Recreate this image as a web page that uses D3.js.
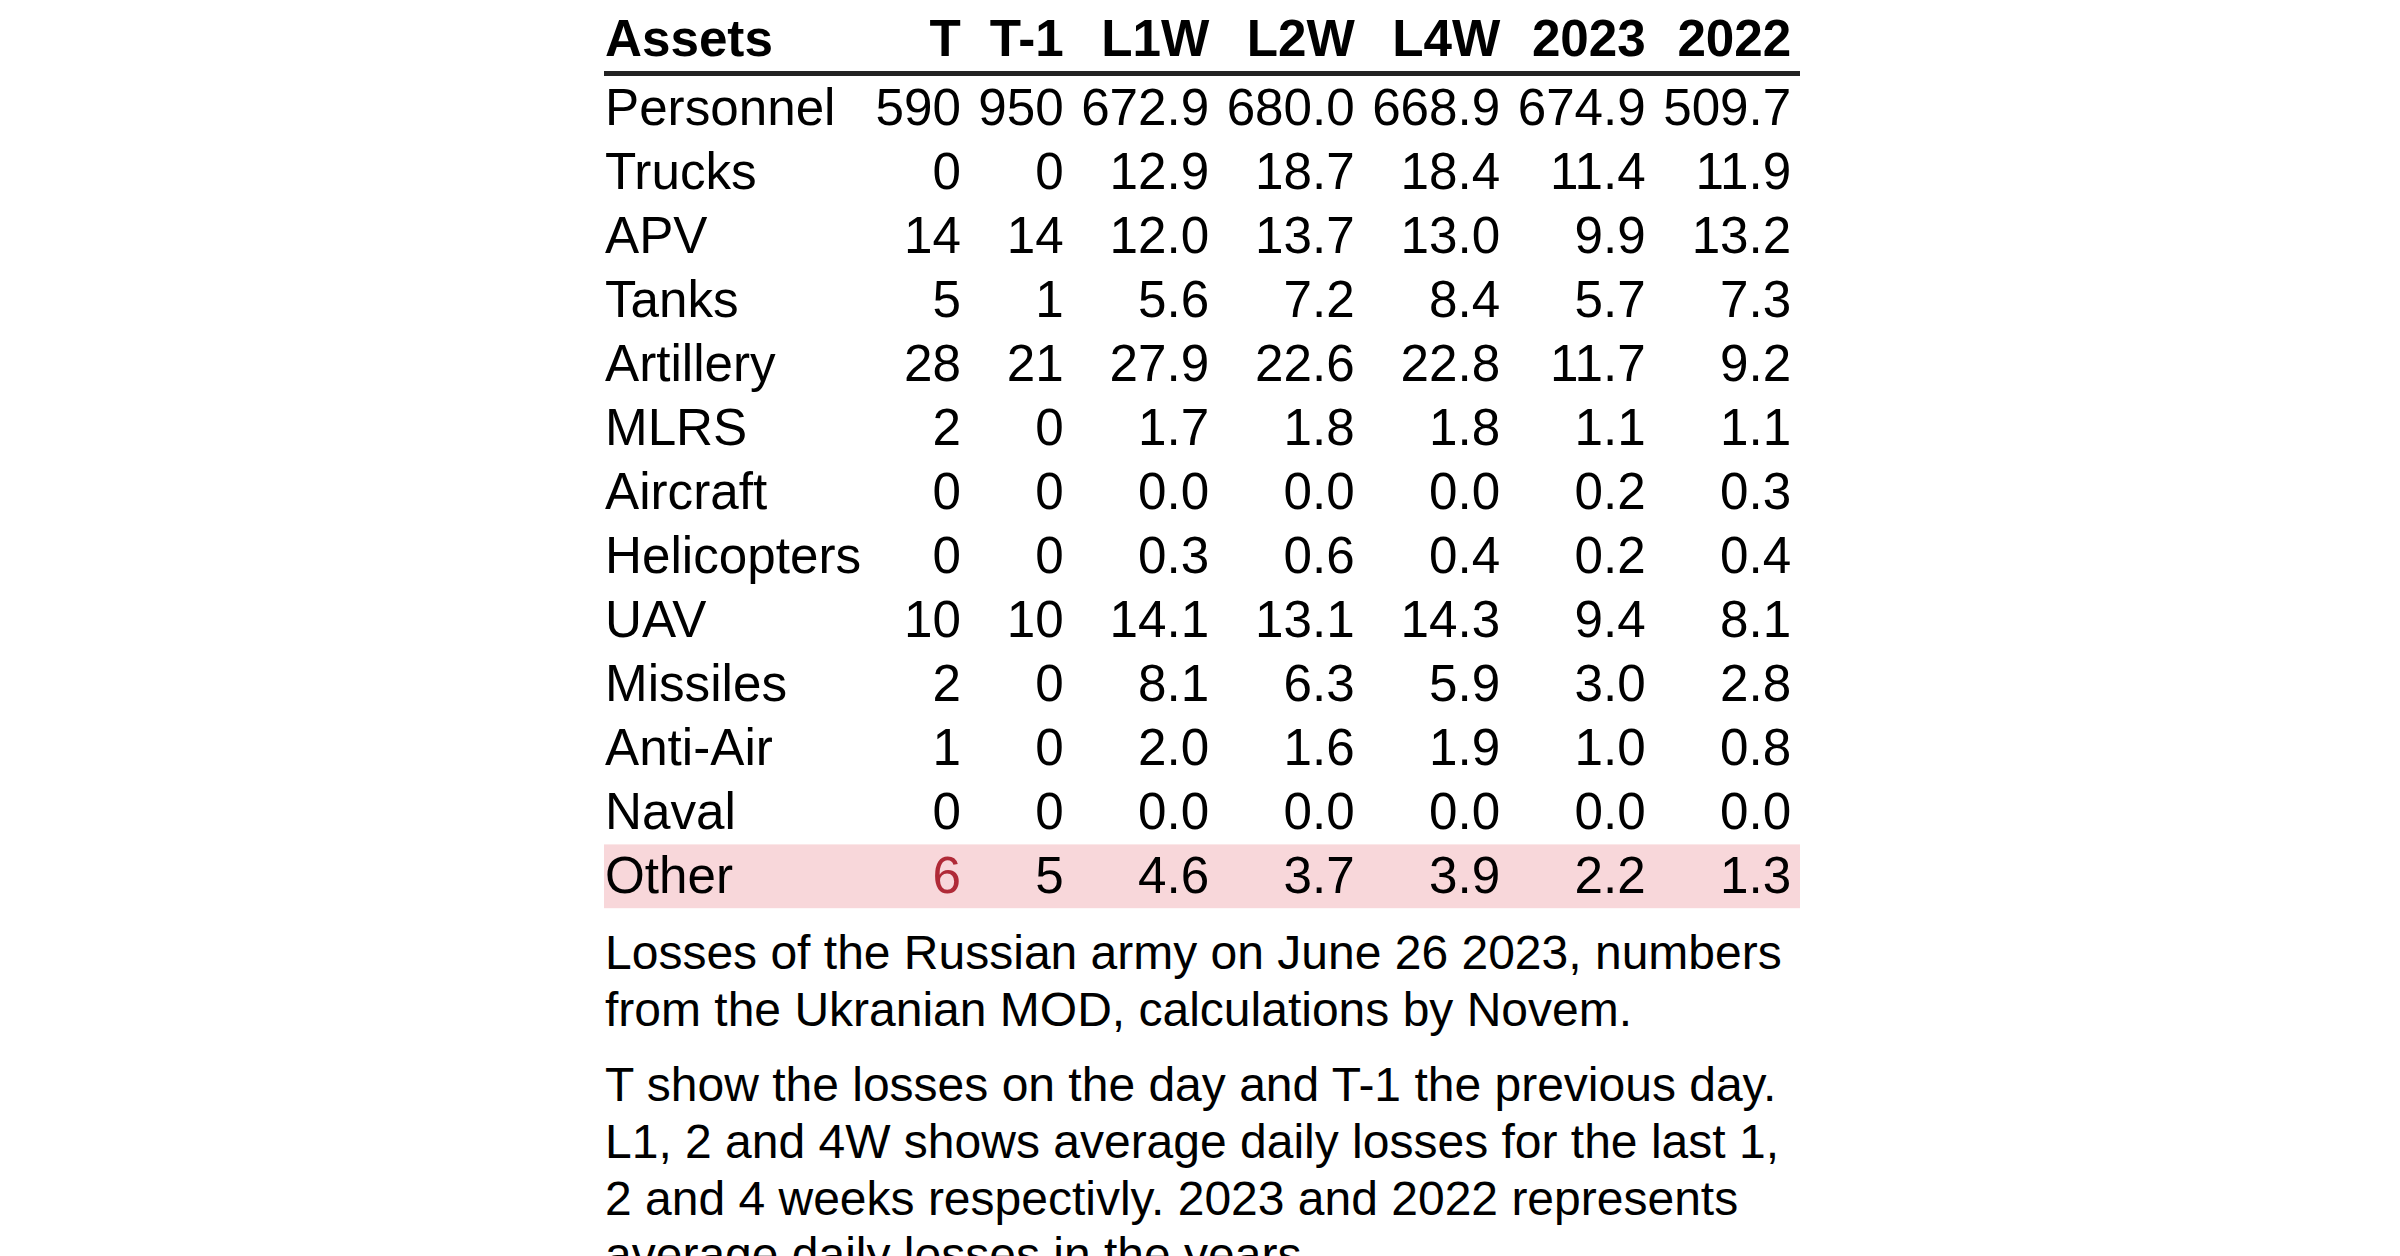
<!DOCTYPE html>
<html>
<head>
<meta charset="utf-8">
<script src="https://cdn.jsdelivr.net/npm/d3@7"></script>
<style>
  html, body { margin: 0; padding: 0; background: #ffffff; }
  svg { display: block; }
  text { font-family: "Liberation Sans", Arial, Helvetica, sans-serif; }
</style>
</head>
<body>
<script>
// ---------- data ----------
const assets = ["Personnel","Trucks","APV","Tanks","Artillery","MLRS","Aircraft","Helicopters","UAV","Missiles","Anti-Air","Naval","Other"];
const columns = ["T","T-1","L1W","L2W","L4W","2023","2022"];
const valT    = [590, 0, 14, 5, 28, 2, 0, 0, 10, 2, 1, 0, 6];
const valT1   = [950, 0, 14, 1, 21, 0, 0, 0, 10, 0, 0, 0, 5];
const valL1W  = [672.9, 12.9, 12.0, 5.6, 27.9, 1.7, 0.0, 0.3, 14.1, 8.1, 2.0, 0.0, 4.6];
const valL2W  = [680.0, 18.7, 13.7, 7.2, 22.6, 1.8, 0.0, 0.6, 13.1, 6.3, 1.6, 0.0, 3.7];
const valL4W  = [668.9, 18.4, 13.0, 8.4, 22.8, 1.8, 0.0, 0.4, 14.3, 5.9, 1.9, 0.0, 3.9];
const val2023 = [674.9, 11.4, 9.9, 5.7, 11.7, 1.1, 0.2, 0.2, 9.4, 3.0, 1.0, 0.0, 2.2];
const val2022 = [509.7, 11.9, 13.2, 7.3, 9.2, 1.1, 0.3, 0.4, 8.1, 2.8, 0.8, 0.0, 1.3];
const highlightRow = "Other";
const highlightCol = "T";
const captionLines1 = ["Losses of the Russian army on June 26 2023, numbers",
                       "from the Ukranian MOD, calculations by Novem."];
const captionLines2 = ["T show the losses on the day and T-1 the previous day.",
                       "L1, 2 and 4W shows average daily losses for the last 1,",
                       "2 and 4 weeks respectivly. 2023 and 2022 represents",
                       "average daily losses in the years."];

const seriesByCol = {"T": valT, "T-1": valT1, "L1W": valL1W, "L2W": valL2W, "L4W": valL4W, "2023": val2023, "2022": val2022};
const intCols = new Set(["T","T-1"]);
const fmtInt = d3.format("d"), fmtDec = d3.format(".1f");

// ---------- layout ----------
const W = 2400, H = 1256;
const tableLeft = 604, tableRight = 1800;
const fsTable = 51.2, fsCap = 48;
const svg = d3.select("body").append("svg").attr("width", W).attr("height", H);

// measure texts
const meas = svg.append("text").attr("font-size", fsTable).attr("x", -9999).attr("y", -9999);
function tw(s, bold) {
  meas.attr("font-weight", bold ? "bold" : "normal").text(s);
  return meas.node().getComputedTextLength();
}
const colNames = ["Assets"].concat(columns);
const widths = colNames.map((c, i) => {
  let m = tw(c, true);
  if (i === 0) assets.forEach(a => { m = Math.max(m, tw(a, false)); });
  else seriesByCol[c].forEach(v => { m = Math.max(m, tw((intCols.has(c) ? fmtInt : fmtDec)(v), false)); });
  return m;
});
meas.remove();
const textStart = tableLeft + 1;
const pad = (tableRight - tableLeft + 2 - d3.sum(widths)) / 15;
const anchorX = {};
let edge = textStart + widths[0] + pad - 3;
anchorX["Assets"] = textStart;
columns.forEach((c, i) => {
  anchorX[c] = edge + pad + widths[i + 1];
  edge = anchorX[c] + pad;
});
const xCol = d3.scaleOrdinal().domain(colNames).range(colNames.map(c => anchorX[c]));

const rowTop = 77.6, rowH = 64;
const y = d3.scaleBand().domain(assets).range([rowTop, rowTop + rowH * assets.length]).padding(0);
const baseOff = 47;

// highlight row background
svg.append("rect")
  .attr("x", tableLeft).attr("width", tableRight - tableLeft)
  .attr("y", y(highlightRow) - 1.2).attr("height", y.bandwidth() - 0.2)
  .attr("fill", "#f8d7da");

// header
const header = svg.append("g");
header.selectAll("text").data(colNames).join("text")
  .attr("x", d => xCol(d)).attr("y", 56)
  .attr("text-anchor", d => d === "Assets" ? "start" : "end")
  .attr("font-size", fsTable).attr("font-weight", "bold").attr("fill", "#000")
  .text(d => d);
svg.append("rect").attr("x", tableLeft).attr("width", tableRight - tableLeft)
  .attr("y", 71).attr("height", 5).attr("fill", "#222");

// body rows
const rows = svg.append("g").selectAll("g").data(assets).join("g")
  .attr("transform", d => `translate(0,${y(d) + baseOff})`);
rows.append("text")
  .attr("x", xCol("Assets")).attr("y", 0)
  .attr("font-size", fsTable).attr("fill", "#000")
  .text(d => d);
rows.each(function(a, i) {
  d3.select(this).selectAll("text.v").data(columns).join("text")
    .attr("class", "v")
    .attr("x", c => xCol(c)).attr("y", 0)
    .attr("text-anchor", "end").attr("font-size", fsTable)
    .attr("fill", c => (a === highlightRow && c === highlightCol) ? "#b02a37" : "#000")
    .text(c => (intCols.has(c) ? fmtInt : fmtDec)(seriesByCol[c][i]));
});

// captions
const lineH = 56.8;
const cap = svg.append("g").attr("font-size", fsCap).attr("fill", "#000");
cap.selectAll("text.c1").data(captionLines1).join("text").attr("class", "c1")
  .attr("x", textStart).attr("y", (d, i) => 969 + i * lineH).attr("font-size", fsCap).text(d => d);
cap.selectAll("text.c2").data(captionLines2).join("text").attr("class", "c2")
  .attr("x", textStart).attr("y", (d, i) => 1101 + i * lineH).attr("font-size", fsCap).text(d => d);
</script>
</body>
</html>
